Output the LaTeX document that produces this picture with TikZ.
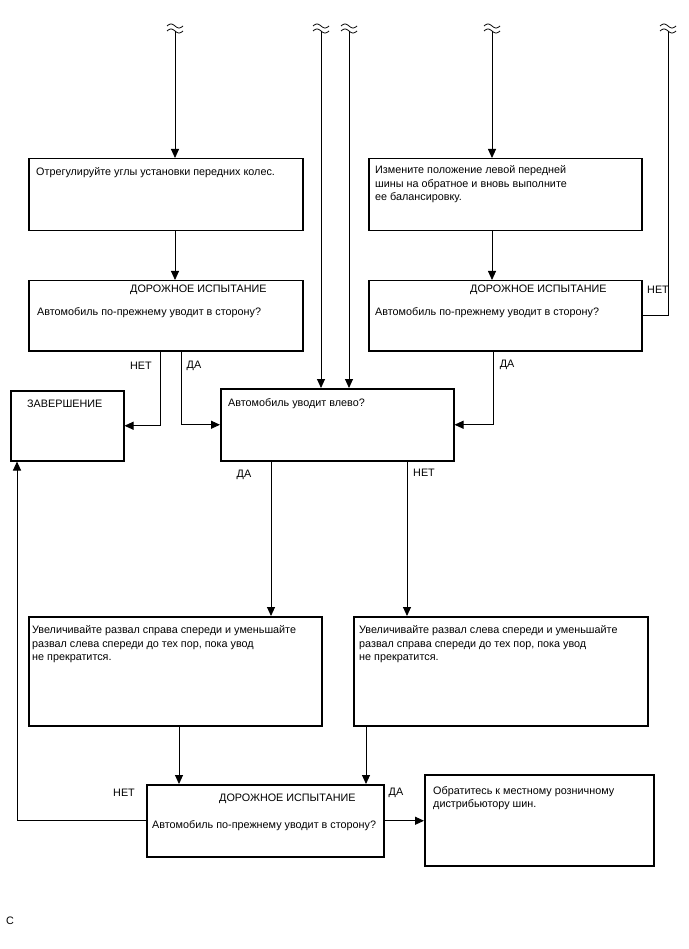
\documentclass[tikz,border=0pt]{standalone}
\usepackage{fontspec}
\setmainfont{Liberation Sans}
\usetikzlibrary{arrows.meta}
\begin{document}
\begin{tikzpicture}[x=1pt,y=-1pt,
 box/.style={draw, line width=1.5pt, inner sep=0pt, anchor=north west},
 txt/.style={anchor=north west, inner sep=0pt, align=left, font=\fontsize{10.8}{13.8}\selectfont},
 ltxt/.style={anchor=west, inner sep=0pt, font=\fontsize{10.8}{13}\selectfont},
 lab/.style={inner sep=0pt, font=\fontsize{10.8}{13}\selectfont},
 ln/.style={line width=0.9pt},
 conn/.style={line width=0.9pt, -{Triangle[length=9pt,width=8pt]}},
 brk/.pic={
   \draw[line width=0.8pt] plot[domain=-8:8, smooth, samples=25] ({\x},{-5+2*sin(\x*360/16)});
   \draw[line width=0.8pt] plot[domain=-8:8, smooth, samples=25] ({\x},{2*sin(\x*360/16)});
 }]
\useasboundingbox (0,0) rectangle (688,949);

% break symbols
\pic at (175,31) {brk}; \coordinate (t1) at (175,31);
\pic at (321,31) {brk}; \coordinate (t2) at (321,31);
\pic at (349,31) {brk}; \coordinate (t3) at (349,31);
\pic at (492,31) {brk}; \coordinate (t4) at (492,31);
\pic at (668,31) {brk}; \coordinate (t5) at (668,31);

% boxes
\node[box, minimum width=274pt, minimum height=72pt] (b1) at (28,158) {};
\node[box, minimum width=274pt, minimum height=70pt] (b2) at (28,280) {};
\node[box, minimum width=273pt, minimum height=72pt] (b3) at (368,158) {};
\node[box, minimum width=273pt, minimum height=70pt] (b4) at (368,280) {};
\node[box, minimum width=113pt, minimum height=70pt] (end) at (10,390) {};
\node[box, minimum width=233pt, minimum height=72pt] (q) at (220,388) {};
\node[box, minimum width=293pt, minimum height=109pt] (b5) at (28,616) {};
\node[box, minimum width=294pt, minimum height=109pt] (b6) at (353,616) {};
\node[box, minimum width=237pt, minimum height=72pt] (b7) at (146,784) {};
\node[box, minimum width=229pt, minimum height=91pt] (b8) at (424,774) {};

% texts
\node[txt] (tx1) at (36,167) {Отрегулируйте углы установки передних колес.};
\node[ltxt] (tx2a) at (130,290) {ДОРОЖНОЕ ИСПЫТАНИЕ};
\node[ltxt] (tx2b) at (37,313) {Автомобиль по-прежнему уводит в сторону?};
\node[txt] (tx3) at (375,165) {Измените положение левой передней\\шины на обратное и вновь выполните\\ее балансировку.};
\node[ltxt] (tx4a) at (470,290) {ДОРОЖНОЕ ИСПЫТАНИЕ};
\node[ltxt] (tx4b) at (375,313) {Автомобиль по-прежнему уводит в сторону?};
\node[ltxt] (txe) at (27,404) {ЗАВЕРШЕНИЕ};
\node[ltxt] (txq) at (228,404) {Автомобиль уводит влево?};
\node[txt] (tx5) at (32,625) {Увеличивайте развал справа спереди и уменьшайте\\развал слева спереди до тех пор, пока увод\\не прекратится.};
\node[txt] (tx6) at (359,625) {Увеличивайте развал слева спереди и уменьшайте\\развал справа спереди до тех пор, пока увод\\не прекратится.};
\node[ltxt] (tx7a) at (219,799) {ДОРОЖНОЕ ИСПЫТАНИЕ};
\node[ltxt] (tx7b) at (152,826) {Автомобиль по-прежнему уводит в сторону?};
\node[txt] (tx8) at (433,786) {Обратитесь к местному розничному\\дистрибьютору шин.};
\node[ltxt] (tc) at (6,921) {C};

% connector x positions
\coordinate (xn1) at (160,0);
\coordinate (xd1) at (181,0);
\coordinate (xd4) at (493,0);
\coordinate (xdq) at (271,0);
\coordinate (xnq) at (407,0);
\coordinate (x5) at (179,0);
\coordinate (x6) at (366,0);
\coordinate (xl) at (17,0);

% connectors
\draw[conn] (t1) -- (b1.north -| t1);
\draw[conn] (b1.south -| t1) -- (b2.north -| t1);
\draw[conn] (t4) -- (b3.north -| t4);
\draw[conn] (b3.south -| t4) -- (b4.north -| t4);
\draw[conn] (t2) -- (q.north -| t2);
\draw[conn] (t3) -- (q.north -| t3);
\draw[conn] (b2.south -| xn1) |- (end.east);
\draw[conn] (b2.south -| xd1) |- (q.west);
\draw[conn] (b4.south -| xd4) |- (q.east);
\draw[ln] (b4.east) -| (t5);
\draw[conn] (q.south -| xdq) -- (b5.north -| xdq);
\draw[conn] (q.south -| xnq) -- (b6.north -| xnq);
\draw[conn] (b5.south -| x5) -- (b7.north -| x5);
\draw[conn] (b6.south -| x6) -- (b7.north -| x6);
\draw[conn] (b7.west) -| (end.south -| xl);
\draw[conn] (b7.east) -- (b8.west |- b7.east);

% labels
\node[lab] (l1) at (141,366) {НЕТ};
\node[lab] (l2) at (194,366) {ДА};
\node[lab] (l3) at (507,365) {ДА};
\node[lab] (l4) at (658,290) {НЕТ};
\node[lab] (l5) at (244,475) {ДА};
\node[lab] (l6) at (424,473) {НЕТ};
\node[lab] (l7) at (124,793) {НЕТ};
\node[lab] (l8) at (396,793) {ДА};
\end{tikzpicture}
\end{document}
